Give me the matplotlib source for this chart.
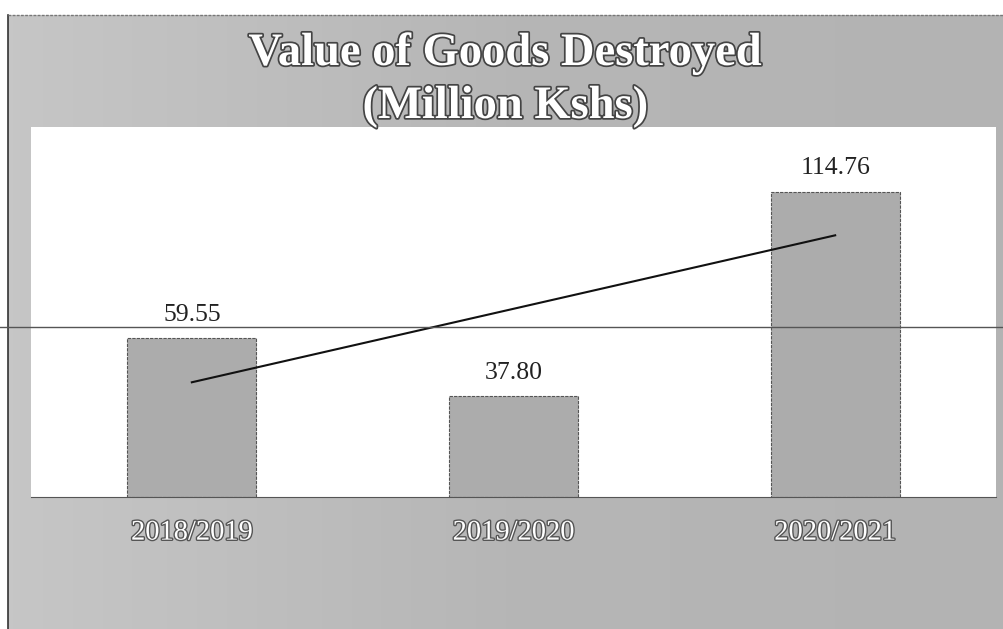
import numpy as np
import matplotlib.pyplot as plt
import matplotlib.patheffects as pe
from matplotlib.colors import LinearSegmentedColormap
from matplotlib.lines import Line2D

years = ["2018/2019", "2019/2020", "2020/2021"]
values = [59.55, 37.80, 114.76]
value_labels = ["59.55", "37.80", "114.76"]

plt.rcParams["font.family"] = ["Liberation Serif", "DejaVu Serif"]

fig = plt.figure(figsize=(10.04, 6.29), dpi=100)
fig.patch.set_facecolor("white")
W, H = 1004, 629

# grey panel behind the chart, a bit lighter on the left like the scan
bg = fig.add_axes([8 / W, 0, 1 - 8 / W, 1 - 15 / H], zorder=0)
greys = LinearSegmentedColormap.from_list("panel", ["#c6c6c6", "#b6b6b6", "#b3b3b3"])
bg.imshow(np.linspace(0, 1, 200)[None, :], aspect="auto", cmap=greys,
          extent=[0, 1, 0, 1])
bg.set_xlim(0, 1)
bg.set_ylim(0, 1)
bg.axis("off")
fig.add_artist(Line2D([8 / W, 8 / W], [0, 1 - 15 / H], color="#333333", lw=1.2))
fig.add_artist(Line2D([8 / W, 1], [1 - 15 / H, 1 - 15 / H], color="#777777",
                      lw=1, ls=(0, (2, 1))))

ax = fig.add_axes([31 / W, (H - 497) / H, (996 - 31) / W, (497 - 127) / H], zorder=1)
ax.set_facecolor("white")
x = np.arange(len(years))
ax.bar(x, values, width=0.4, color="#acacac", edgecolor="#555555",
       linewidth=0.8, linestyle=(0, (3, 1)))
for xi, v, lab in zip(x, values, value_labels):
    ax.text(xi, v + 6.5, lab, ha="center", va="baseline", fontsize=18.5, color="#222222")

# linear trend line
slope, intercept = np.polyfit(x, values, 1)
ax.plot(x, slope * x + intercept, color="#111111", lw=1.5)

ax.set_xlim(-0.5, 2.5)
ax.set_ylim(0, 139)
ax.set_yticks([])
ax.set_xticks(x)
ax.set_xticklabels(years, fontsize=20.5, color="white",
                   path_effects=[pe.withStroke(linewidth=2, foreground="#555555")])
ax.tick_params(axis="x", length=0, pad=17)
for s in ["top", "right", "left"]:
    ax.spines[s].set_visible(False)
ax.spines["bottom"].set_color("#555555")

title_fx = [pe.withStroke(linewidth=2.5, foreground="#444444")]
fig.text(505 / W, 1 - 65 / H, "Value of Goods Destroyed", ha="center", va="baseline",
         fontsize=33.5, fontweight="bold", color="white", path_effects=title_fx)
fig.text(505 / W, 1 - 118 / H, "(Million Kshs)", ha="center", va="baseline",
         fontsize=33.5, fontweight="bold", color="white", path_effects=title_fx, zorder=3)

# page rule running across the scan
fig.add_artist(Line2D([0, 1], [1 - 327 / H, 1 - 327 / H], color="#555555", lw=1, zorder=5))

fig.savefig("out.png", dpi=100)
